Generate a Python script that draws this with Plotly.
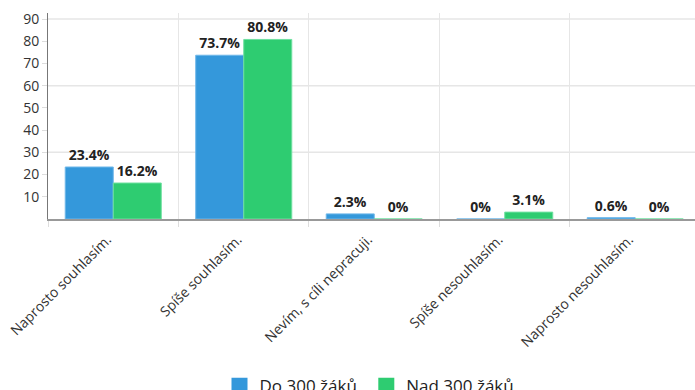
import plotly.graph_objects as go

categories = ["Naprosto souhlasím.", "Spíše souhlasím.", "Nevím, s cíli nepracuji.",
              "Spíše nesouhlasím.", "Naprosto nesouhlasím."]
series_names = ["Do 300 žáků.", "Nad 300 žáků."]
small_values = [23.4, 73.7, 2.3, 0, 0.6]
large_values = [16.2, 80.8, 0, 3.1, 0]
y_ticks = [10, 20, 30, 40, 50, 60, 70, 80, 90]
grid_values = [30, 60, 90]

colors = ["#3498db", "#2ecc71"]
edge = ["#6fb7e9", "#6fe0a0"]

def lbl(v):
    return f"{v:g}%"

fig = go.Figure()
for name, vals, c, e in zip(series_names, [small_values, large_values], colors, edge):
    fig.add_trace(go.Bar(
        x=categories, y=vals, name=name, showlegend=False,
        marker=dict(color=c, line=dict(color=e, width=1)),
        text=[lbl(v) for v in vals], textposition="outside",
        textfont=dict(family="Open Sans", size=14, color="#222", weight="bold"),
        cliponaxis=False,
    ))
for name, c in zip(series_names, colors):
    fig.add_trace(go.Scatter(
        x=[None], y=[None], name=name, mode="markers",
        marker=dict(symbol="square", size=17, color=c),
    ))

for g in grid_values:
    fig.add_shape(type="line", xref="paper", yref="y", x0=0, x1=1, y0=g, y1=g,
                  line=dict(color="#e6e6e6", width=1.5), layer="below")

fig.update_layout(
    width=695, height=390,
    margin=dict(l=48, r=0, t=13, b=171),
    plot_bgcolor="white", paper_bgcolor="white",
    barmode="group", bargap=0.264, bargroupgap=0,
    font=dict(family="Open Sans", color="#333"),
    showlegend=True,
    legend=dict(orientation="h", x=0.5, xanchor="center",
                yref="container", y=0.056, yanchor="top",
                font=dict(size=17, color="#222"), itemwidth=30),
    xaxis=dict(
        type="category", range=[-0.5, 4.458], tickson="boundaries", automargin=False,
        showgrid=True, gridcolor="#e6e6e6", gridwidth=1,
        ticks="outside", ticklen=6, tickcolor="#dddddd",
        tickangle=-45, tickfont=dict(size=14, color="#333"),
        ticklabelshift=-6, ticklabelstandoff=5,
        showline=True, linecolor="#999999", linewidth=2,
    ),
    yaxis=dict(
        range=[0, 92.7], tickvals=y_ticks, showgrid=False, zeroline=False, automargin=False,
        ticks="outside", ticklen=5, tickcolor="#dddddd",
        tickfont=dict(size=14, color="#333"),
        showline=True, linecolor="#777777", linewidth=1,
    ),
)

fig.write_html("out.html")
